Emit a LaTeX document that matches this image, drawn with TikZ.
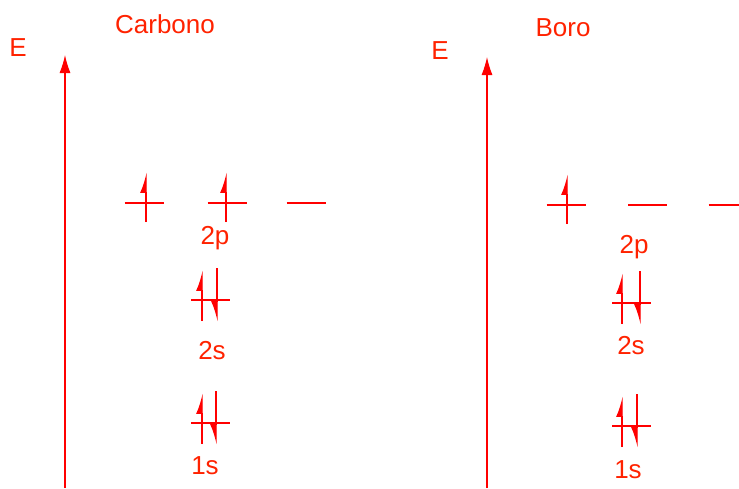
\documentclass[tikz,border=0pt]{standalone}
\usepackage{fontspec}
\setmainfont{Liberation Sans}
\usetikzlibrary{arrows.meta}

\definecolor{levelred}{RGB}{255,0,0}
\definecolor{labelred}{RGB}{255,34,0}

\tikzset{
  level/.style={draw=levelred, line width=1.8pt},
  spinup/.style={draw=levelred, fill=levelred, line width=1.3pt, -{Latex[left,length=18pt,width=12pt]}},
  spindown/.style={draw=levelred, fill=levelred, line width=1.3pt, -{Latex[right,length=18pt,width=12pt]}},
  energyaxis/.style={draw=levelred, fill=levelred, line width=1.1pt, -{Latex[length=18pt,width=11pt]}},
  lbl/.style={text=labelred, font=\fontsize{26}{30}\selectfont, inner sep=0pt},
}

% orbital level: name, x centre, y
\newcommand{\orbital}[3]{%
  \coordinate (#1-w) at (#2-19.5,#3);
  \coordinate (#1-e) at (#2+19.5,#3);
  \draw[level] (#1-w) -- (#1-e);}
% single electron: name, x, y of level
\newcommand{\single}[3]{%
  \coordinate (#1-s0) at (#2+2,#3+19);
  \coordinate (#1-s1) at (#2+2,#3-31);
  \draw[spinup] (#1-s0) -- (#1-s1);}
% electron pair: name, x of up, x of down, y of level
\newcommand{\pair}[4]{%
  \coordinate (#1-u0) at (#2,#4+21);
  \coordinate (#1-u1) at (#2,#4-30);
  \coordinate (#1-d0) at (#3,#4-32);
  \coordinate (#1-d1) at (#3,#4+22);
  \draw[spinup] (#1-u0) -- (#1-u1);
  \draw[spindown] (#1-d0) -- (#1-d1);}

\begin{document}
\begin{tikzpicture}[x=1pt,y=-1pt]
  \useasboundingbox (0,0) rectangle (739,488);

  % Carbono
  \coordinate (caxis0) at (65,488);
  \coordinate (caxis1) at (65,55);
  \draw[energyaxis] (caxis0) -- (caxis1);
  \node[lbl] (cE) at (18,48) {E};
  \node[lbl] (ctitle) at (165,24) {Carbono};

  \orbital{c2pa}{144}{203}
  \orbital{c2pb}{227}{203}
  \orbital{c2pc}{306}{203}
  \single{c2pa}{144}{203}
  \single{c2pb}{224}{203}
  \node[lbl] (c2p) at (215,238) {2p};

  \orbital{c2s}{210.5}{300}
  \pair{c2s}{202}{217}{300}
  \node[lbl] (c2slbl) at (212,351) {2s};

  \orbital{c1s}{210.5}{423}
  \pair{c1s}{202}{216}{423}
  \node[lbl] (c1slbl) at (205,466) {1s};

  % Boro
  \coordinate (baxis0) at (487,488);
  \coordinate (baxis1) at (487,57);
  \draw[energyaxis] (baxis0) -- (baxis1);
  \node[lbl] (bE) at (440,51) {E};
  \node[lbl] (btitle) at (563,28) {Boro};

  \orbital{b2pa}{566}{205}
  \orbital{b2pb}{647.5}{205}
  \orbital{b2pc}{728}{205}
  \single{b2pa}{565}{205}
  \node[lbl] (b2p) at (634,247) {2p};

  \orbital{b2s}{631.5}{303}
  \pair{b2s}{622}{640}{303}
  \node[lbl] (b2slbl) at (631,346) {2s};

  \orbital{b1s}{631.5}{426}
  \pair{b1s}{622}{637}{426}
  \node[lbl] (b1slbl) at (628,470) {1s};
\end{tikzpicture}
\end{document}
